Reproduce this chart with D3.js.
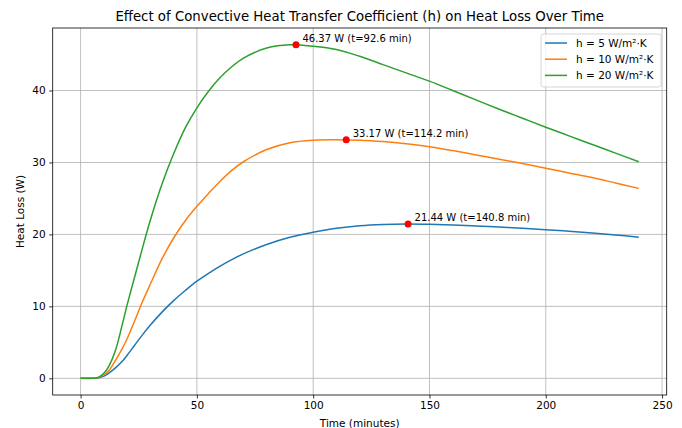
<!DOCTYPE html>
<html>
<head>
<meta charset="utf-8">
<script src="https://cdn.jsdelivr.net/npm/d3@7"></script>
<style>
  body { margin: 0; background: #fff; }
  text { font-family: "DejaVu Sans", sans-serif; fill: #000; }
</style>
</head>
<body>
<svg id="chart"></svg>
<script>
// values
var times = [0, 5, 7, 10, 12, 15, 18, 20, 23, 26, 30, 35, 40, 45, 50, 55, 60, 65, 70,
             80, 90, 100, 110, 120, 130, 140, 150, 160, 170, 180, 190, 200, 210, 220, 230, 240];
var lossH5 = [0, 0, 0.02, 0.3, 0.7, 1.45, 2.4, 3.2, 4.5, 5.8, 7.4, 9.2, 10.8, 12.2, 13.5, 14.6, 15.6, 16.5, 17.3,
              18.6, 19.6, 20.3, 20.85, 21.2, 21.38, 21.44, 21.4, 21.3, 21.17, 21.02, 20.85, 20.66, 20.44, 20.2, 19.93, 19.62];
var lossH10 = [0, 0, 0.03, 0.5, 1.0, 2.5, 4.2, 5.5, 7.8, 10.2, 13.1, 16.6, 19.5, 21.9, 23.9, 25.7, 27.4, 28.9, 30.1,
               31.8, 32.75, 33.1, 33.16, 33.1, 32.9, 32.6, 32.2, 31.65, 31.05, 30.45, 29.85, 29.2, 28.55, 27.9, 27.15, 26.4];
var lossH20 = [0, 0, 0.05, 0.7, 1.6, 3.9, 7.6, 10.2, 13.8, 17.4, 22.0, 27.0, 31.2, 34.8, 37.6, 39.9, 41.8, 43.3, 44.5,
               45.9, 46.35, 46.15, 45.7, 44.75, 43.6, 42.45, 41.3, 40.0, 38.7, 37.4, 36.15, 34.9, 33.7, 32.5, 31.3, 30.1];
var seriesNames = ["h = 5 W/m²·K", "h = 10 W/m²·K", "h = 20 W/m²·K"];
var seriesColors = ["#1f77b4", "#ff7f0e", "#2ca02c"];
var peakTimes = [140.8, 114.2, 92.6];
var peakValues = [21.44, 33.17, 46.37];
var xTicks = [0, 50, 100, 150, 200, 250];
var yTicks = [0, 10, 20, 30, 40];

var width = 682;
var height = 428;
var plotLeft = 52.7, plotRight = 666.7, plotTop = 28, plotBottom = 395;

var series = [lossH5, lossH10, lossH20].map(function(vals, i) {
  return {
    name: seriesNames[i],
    color: seriesColors[i],
    points: times.map(function(t, j) { return { t: t, v: vals[j] }; })
  };
});
var peaks = peakTimes.map(function(t, i) { return { t: t, v: peakValues[i] }; });

// matplotlib style 5% margins
var xExt = d3.extent(times);
var xPad = (xExt[1] - xExt[0]) * 0.05;
var allVals = lossH5.concat(lossH10, lossH20, peakValues);
var yExt = d3.extent(allVals);
var yPad = (yExt[1] - yExt[0]) * 0.05;

var xScale = d3.scaleLinear()
               .domain([xExt[0] - xPad, xExt[1] + xPad])
               .range([plotLeft, plotRight]);
var yScale = d3.scaleLinear()
               .domain([yExt[0] - yPad, yExt[1] + yPad])
               .range([plotBottom, plotTop]);

var svg = d3.select("#chart")
    .attr("width", width)
    .attr("height", height);

// grid
svg.append("g")
  .selectAll("line")
  .data(xTicks)
  .enter()
  .append("line")
    .attr("x1", d => xScale(d)).attr("x2", d => xScale(d))
    .attr("y1", plotTop).attr("y2", plotBottom)
    .attr("stroke", "#b0b0b0").attr("stroke-width", 0.8);

svg.append("g")
  .selectAll("line")
  .data(yTicks)
  .enter()
  .append("line")
    .attr("x1", plotLeft).attr("x2", plotRight)
    .attr("y1", d => yScale(d)).attr("y2", d => yScale(d))
    .attr("stroke", "#b0b0b0").attr("stroke-width", 0.8);

svg.append("clipPath")
    .attr("id", "plot-clip")
  .append("rect")
    .attr("x", plotLeft).attr("y", plotTop)
    .attr("width", plotRight - plotLeft).attr("height", plotBottom - plotTop);

var line = d3.line()
             .x(d => xScale(d.t))
             .y(d => yScale(d.v))
             .curve(d3.curveCatmullRom.alpha(0.5));

svg.append("g")
    .attr("clip-path", "url(#plot-clip)")
  .selectAll("path")
  .data(series)
  .enter()
  .append("path")
    .attr("d", d => line(d.points))
    .attr("fill", "none")
    .attr("stroke", d => d.color)
    .attr("stroke-width", 1.5);

// peak markers and labels
svg.append("g")
  .selectAll("circle")
  .data(peaks)
  .enter()
  .append("circle")
    .attr("cx", d => xScale(d.t))
    .attr("cy", d => yScale(d.v))
    .attr("r", 3.5)
    .attr("fill", "red");

svg.append("g")
  .selectAll("text")
  .data(peaks)
  .enter()
  .append("text")
    .attr("x", d => xScale(d.t) + 6.5)
    .attr("y", d => yScale(d.v) - 3)
    .style("font-size", "10px")
    .text(d => d.v.toFixed(2) + " W (t=" + d.t.toFixed(1) + " min)");

// frame
svg.append("rect")
    .attr("x", plotLeft).attr("y", plotTop)
    .attr("width", plotRight - plotLeft).attr("height", plotBottom - plotTop)
    .attr("fill", "none")
    .attr("stroke", "#000")
    .attr("stroke-width", 0.8);

var xAxis = d3.axisBottom(xScale)
              .tickValues(xTicks)
              .tickSize(3.5)
              .tickPadding(3.5)
              .tickFormat(d3.format("d"));
var yAxis = d3.axisLeft(yScale)
              .tickValues(yTicks)
              .tickSize(3.5)
              .tickPadding(3.5)
              .tickFormat(d3.format("d"));

var gx = svg.append("g")
    .attr("transform", "translate(0," + plotBottom + ")")
    .call(xAxis);
var gy = svg.append("g")
    .attr("transform", "translate(" + plotLeft + ",0)")
    .call(yAxis);

[gx, gy].forEach(function(g) {
  g.select(".domain").remove();
  g.selectAll(".tick line").attr("stroke", "#000").attr("stroke-width", 0.8);
  g.selectAll(".tick text")
    .style("font-size", "10.5px")
    .style("font-family", "DejaVu Sans, sans-serif")
    .attr("fill", "#000");
});

// titles
svg.append("text")
    .text("Effect of Convective Heat Transfer Coefficient (h) on Heat Loss Over Time")
    .attr("x", (plotLeft + plotRight) / 2)
    .attr("y", 21)
    .style("text-anchor", "middle")
    .style("font-size", "13.3px");

svg.append("text")
    .text("Time (minutes)")
    .attr("x", (plotLeft + plotRight) / 2)
    .attr("y", 427)
    .style("text-anchor", "middle")
    .style("font-size", "10.5px");

svg.append("text")
    .text("Heat Loss (W)")
    .attr("transform", "translate(24," + ((plotTop + plotBottom) / 2) + ") rotate(-90)")
    .style("text-anchor", "middle")
    .style("font-size", "10.5px");

// legend
var legend = svg.append("g")
    .attr("transform", "translate(541,34)");

legend.append("rect")
    .attr("width", 120)
    .attr("height", 53)
    .attr("rx", 2.5)
    .attr("fill", "#fff")
    .attr("fill-opacity", 0.8)
    .attr("stroke", "#cccccc")
    .attr("stroke-width", 0.8);

var rows = legend.selectAll(".row")
  .data(series)
  .enter()
  .append("g")
    .attr("class", "row")
    .attr("transform", (d, i) => "translate(0," + (9 + i * 16.2) + ")");

rows.append("line")
    .attr("x1", 4).attr("x2", 26)
    .attr("stroke", d => d.color)
    .attr("stroke-width", 1.5);

rows.append("text")
    .attr("x", 35)
    .attr("dy", "0.35em")
    .style("font-size", "10.5px")
    .text(d => d.name);
</script>
</body>
</html>
